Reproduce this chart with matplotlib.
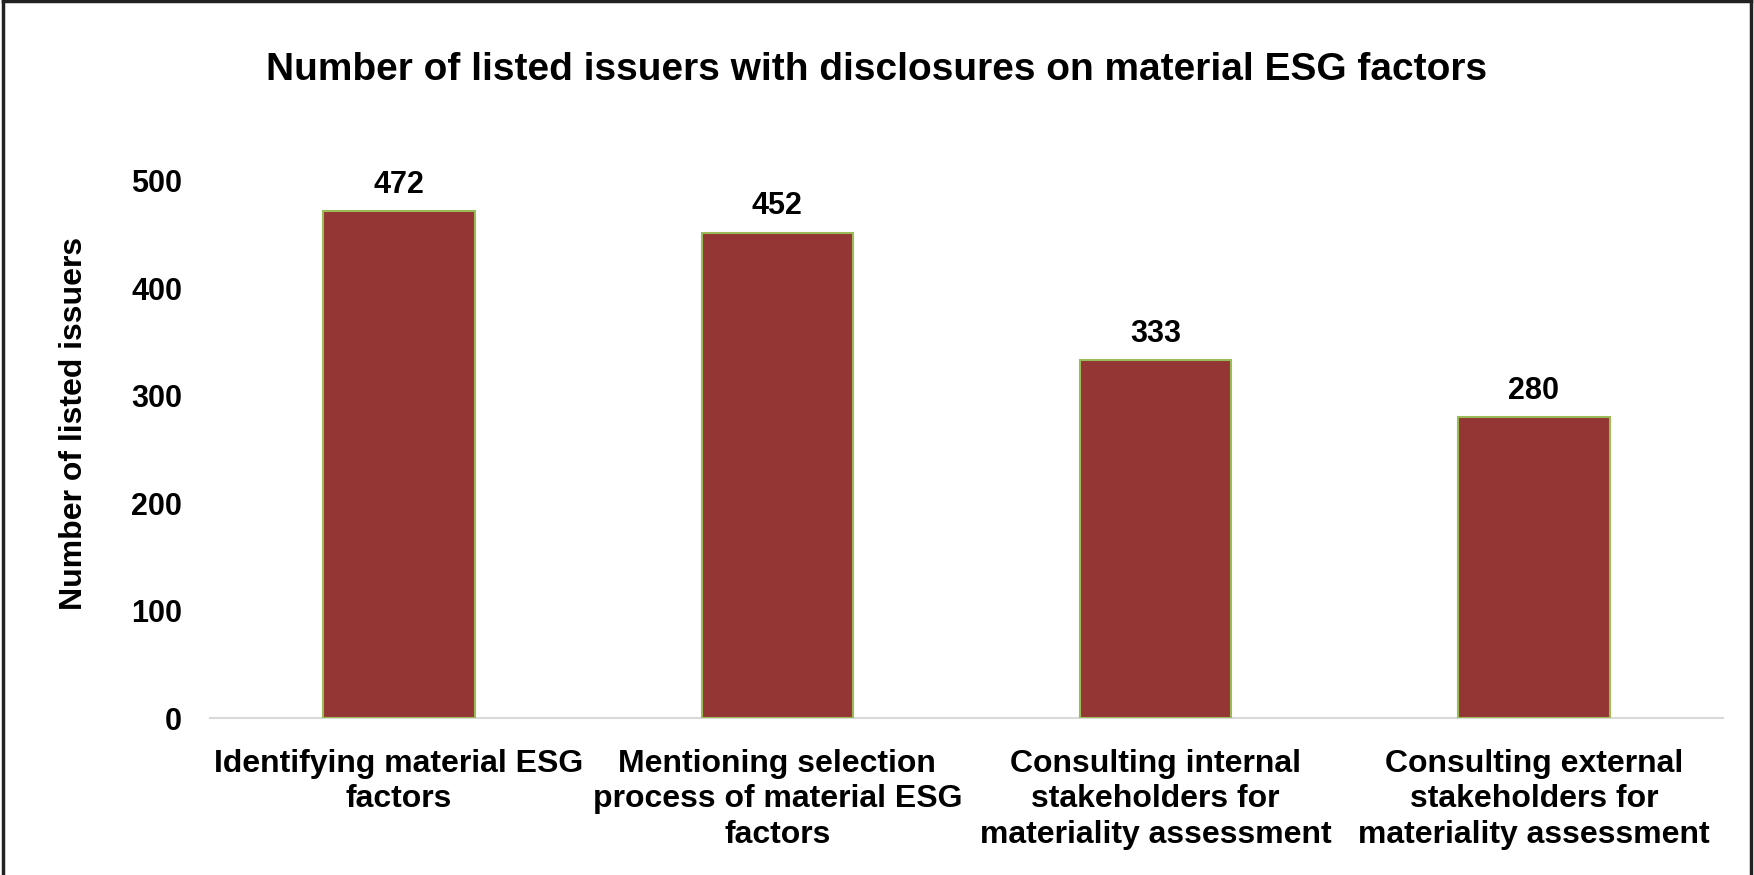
import matplotlib
matplotlib.use("Agg")
import matplotlib.pyplot as plt
from matplotlib.lines import Line2D

plt.rcParams['font.family'] = ['Liberation Sans', 'DejaVu Sans']
plt.rcParams['font.weight'] = 'bold'

categories = [
    "Identifying material ESG\nfactors",
    "Mentioning selection\nprocess of material ESG\nfactors",
    "Consulting internal\nstakeholders for\nmateriality assessment",
    "Consulting external\nstakeholders for\nmateriality assessment",
]
values = [472, 452, 333, 280]
y_ticks = [0, 100, 200, 300, 400, 500]

W, H = 1754, 875
fig = plt.figure(figsize=(W / 100, H / 100), dpi=100)
ax = fig.add_axes([210 / W, 1 - 718 / H, (1723 - 210) / W, (718 - 181) / H])

x = range(len(categories))
ax.bar(x, values, width=0.40, color="#943634", edgecolor="#9BBB59", linewidth=1.5, zorder=3)

for xi, v in zip(x, values):
    ax.annotate(str(v), (xi, v), xytext=(0, 13), textcoords="offset points",
                ha="center", va="baseline", fontsize=22, fontweight="bold", color="black")

ax.set_xlim(-0.5, len(categories) - 0.5)
ax.set_ylim(0, 500)
ax.set_yticks(y_ticks)
ax.set_yticklabels([str(t) for t in y_ticks], fontsize=22, fontweight="bold")
ax.set_xticks(list(x))
ax.set_xticklabels(categories, fontsize=23, fontweight="bold", linespacing=1.25)
ax.tick_params(axis="both", length=0)
ax.tick_params(axis="y", pad=20)
ax.tick_params(axis="x", pad=22)

for s in ["top", "right", "left"]:
    ax.spines[s].set_visible(False)
ax.spines["bottom"].set_color("#D9D9D9")
ax.spines["bottom"].set_linewidth(1.5)

fig.text(74 / W, 1 - 423 / H, "Number of listed issuers", rotation=90,
         ha="center", va="center", fontsize=23, fontweight="bold")

fig.text(0.5, 1 - 70 / H, "Number of listed issuers with disclosures on material ESG factors",
         ha="center", va="center", fontsize=28, fontweight="bold")

# frame around the chart area (left, top, right)
for xs, ys in [([0.0015, 0.0015], [0, 0.999]), ([0.0015, 0.9985], [0.9985, 0.9985]), ([0.9985, 0.9985], [0, 0.999])]:
    fig.add_artist(Line2D(xs, ys, transform=fig.transFigure, color="#222222", linewidth=2.5))

fig.savefig("out.png", dpi=100)
